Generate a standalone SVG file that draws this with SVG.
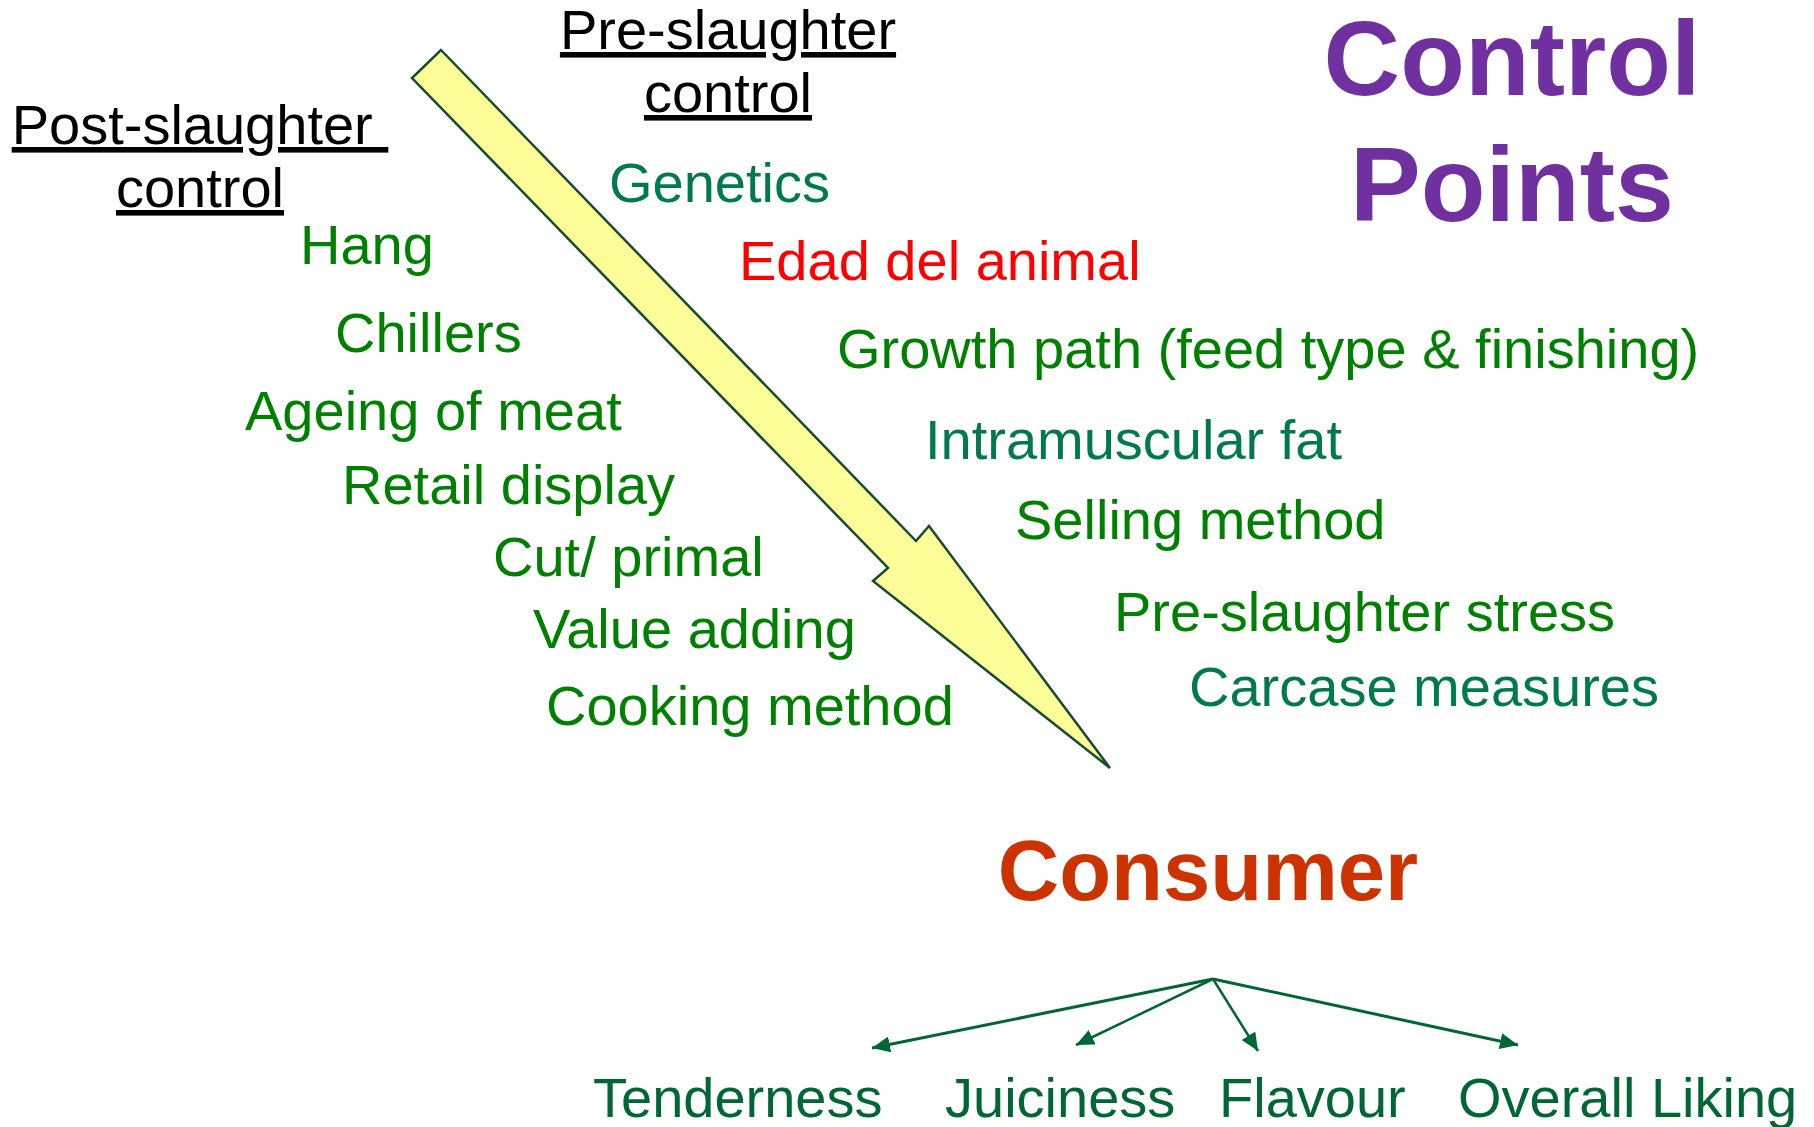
<svg xmlns="http://www.w3.org/2000/svg" width="1814" height="1127" viewBox="0 0 1814 1127">
<defs>
<style>
text{font-family:"Liberation Sans",Arial,sans-serif;}
.hd{font-size:56px;fill:#000;text-decoration:underline;}
.g{font-size:56px;fill:#008000;}
.t{font-size:56px;fill:#007A4D;}
.r{font-size:56px;fill:#FF0000;}
.b{font-size:56px;fill:#006633;}
.cp{font-size:106px;font-weight:bold;fill:#7030A0;}
.cons{font-size:85px;font-weight:bold;fill:#CC3300;}
.c{stroke:#006633;fill:none;}
</style>
<marker id="ah" markerUnits="userSpaceOnUse" markerWidth="20" markerHeight="16" refX="18" refY="8" orient="auto">
<path d="M0,0 L18,8 L0,16 Z" fill="#006633"/>
</marker>
</defs>
<rect width="1814" height="1127" fill="#fff"/>
<g id="big-arrow">
<polygon points="441,50 916,541 929,526 1110,768 873,581 888,568 412,78" fill="#FFFF99" stroke="#174D2E" stroke-width="2.5" stroke-linejoin="miter"/>
</g>
<g id="title">
<text class="cp" x="1512" y="95" text-anchor="middle">Control</text>
<text class="cp" x="1512" y="221" text-anchor="middle">Points</text>
</g>
<g id="pre-header">
<text class="hd" x="728" y="49" text-anchor="middle">Pre-slaughter</text>
<text class="hd" x="728" y="112" text-anchor="middle">control</text>
</g>
<g id="post-header">
<text class="hd" x="200" y="144" text-anchor="middle">Post-slaughter&#160;</text>
<text class="hd" x="200" y="207" text-anchor="middle">control</text>
</g>
<g id="post-items">
<text class="g" x="300" y="264">Hang</text>
<text class="g" x="335" y="352">Chillers</text>
<text class="g" x="245" y="430">Ageing of meat</text>
<text class="g" x="342" y="504">Retail display</text>
<text class="g" x="493" y="576">Cut/ primal</text>
<text class="g" x="533" y="648">Value adding</text>
<text class="g" x="546" y="725">Cooking method</text>
</g>
<g id="pre-items">
<text class="t" x="609" y="202">Genetics</text>
<text class="r" x="739" y="280">Edad del animal</text>
<text class="g" x="837" y="368">Growth path (feed type &amp; finishing)</text>
<text class="t" x="925" y="459">Intramuscular fat</text>
<text class="g" x="1015" y="539">Selling method</text>
<text class="g" x="1114" y="631">Pre-slaughter stress</text>
<text class="t" x="1189" y="706">Carcase measures</text>
</g>
<g id="consumer">
<text class="cons" x="1208" y="900" text-anchor="middle">Consumer</text>
</g>
<g id="connectors">
<line class="c" x1="1213" y1="979" x2="872" y2="1048" stroke-width="3" marker-end="url(#ah)"/>
<line class="c" x1="1213" y1="979" x2="1076" y2="1045" stroke-width="2.5" marker-end="url(#ah)"/>
<line class="c" x1="1213" y1="979" x2="1258" y2="1051" stroke-width="2.5" marker-end="url(#ah)"/>
<line class="c" x1="1213" y1="979" x2="1518" y2="1045" stroke-width="3" marker-end="url(#ah)"/>
</g>
<g id="outcomes">
<text class="b" x="593" y="1117">Tenderness</text>
<text class="b" x="945" y="1117">Juiciness</text>
<text class="b" x="1219" y="1117">Flavour</text>
<text class="b" x="1458" y="1117">Overall Liking</text>
</g>
</svg>
